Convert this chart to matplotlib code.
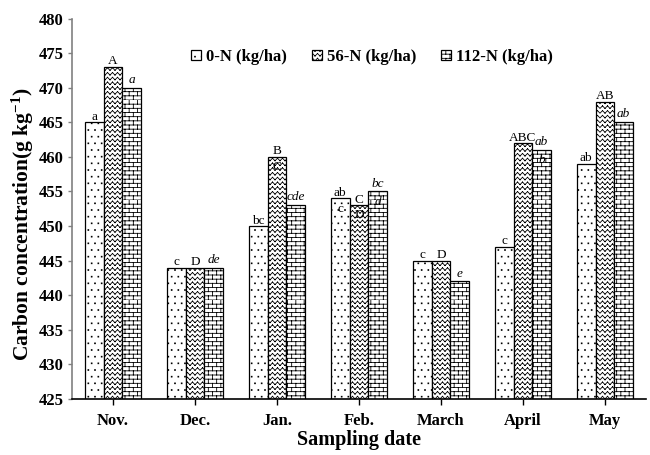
import numpy as np
import matplotlib
matplotlib.use("Agg")
import matplotlib.pyplot as plt
import matplotlib.hatch as mhatch
from matplotlib.path import Path

# data
months = ['Nov.', 'Dec.', 'Jan.', 'Feb.', 'March', 'April', 'May']
n0 = [465, 444, 450, 454, 445, 447, 459]
n56 = [473, 444, 460, 453, 445, 462, 468]
n112 = [470, 444, 453, 455, 442, 461, 465]
let0 = ['a', 'c', 'bc', 'ab', 'c', 'c', 'ab']
let56 = ['A', 'D', 'B', 'C', 'D', 'ABC', 'AB']
let112 = ['a', 'de', 'cde', 'bc', 'e', 'ab', 'ab']
# second letters that sit just under the bar tops
inner0 = ['', '', '', 'c', '', '', '']
inner56 = ['', '', 'C', 'D', '', '', '']
inner112 = ['', '', '', 'd', '', 'b', '']
names = ['0-N (kg/ha)', '56-N (kg/ha)', '112-N (kg/ha)']


# custom hatch patterns: dots ('.'), zigzag ('x'), brick ('+')
class DotHatch(mhatch.HatchPatternBase):
    def __init__(self, hatch, density):
        self.pts = []
        if '.' in hatch:
            n = 15
            for j in range(n):
                for i in range(n):
                    x = (i + 0.5 * (j % 2) + 0.25) / n
                    self.pts.append((x, (j + 0.5) / n))
        self.num_vertices = len(self.pts) * 5

    def set_vertices_and_codes(self, vertices, codes):
        s = 0.004
        for k, (x, y) in enumerate(self.pts):
            v = [(x - s, y - s), (x + s, y - s), (x + s, y + s), (x - s, y + s), (x - s, y - s)]
            vertices[k * 5:k * 5 + 5] = v
            codes[k * 5:k * 5 + 5] = [Path.MOVETO, Path.LINETO, Path.LINETO, Path.LINETO, Path.CLOSEPOLY]


class SegHatch(mhatch.HatchPatternBase):
    char = ''

    def __init__(self, hatch, density):
        self.segs = self.make() if self.char in hatch else []
        self.num_vertices = len(self.segs) * 2

    def set_vertices_and_codes(self, vertices, codes):
        segs = np.array(self.segs)
        vertices[0::2] = segs[:, 0]
        vertices[1::2] = segs[:, 1]
        codes[0::2] = Path.MOVETO
        codes[1::2] = Path.LINETO


class ZigHatch(SegHatch):
    char = 'x'

    def make(self):
        segs = []
        nx, ny, amp = 20, 21, 0.013
        for j in range(ny):
            y = (j + 0.5) / ny
            for i in range(nx):
                x0 = i / nx
                xm = (i + 0.5) / nx
                x1 = (i + 1) / nx
                segs.append([(x0, y - amp), (xm, y + amp)])
                segs.append([(xm, y + amp), (x1, y - amp)])
        return segs


class BrickHatch(SegHatch):
    char = '+'

    def make(self):
        segs = []
        nx, ny = 12, 24
        for j in range(ny):
            y0 = j / ny
            y1 = (j + 1) / ny
            segs.append([(0, y0), (1, y0)])
            off = 0.5 * (j % 2)
            for i in range(nx):
                xx = (i + off) / nx
                segs.append([(xx, y0), (xx, y1)])
        return segs


mhatch._hatch_types = [DotHatch, ZigHatch, BrickHatch]

plt.rcParams['font.family'] = ['Liberation Serif', 'DejaVu Serif']
plt.rcParams['mathtext.fontset'] = 'custom'
plt.rcParams['mathtext.rm'] = 'Liberation Serif:bold'
plt.rcParams['mathtext.default'] = 'rm'
plt.rcParams['hatch.linewidth'] = 0.6
plt.rcParams['hatch.color'] = 'black'

fig = plt.figure(figsize=(6.5, 4.55), dpi=100)
ax = fig.add_axes([0.1108, 0.1231, 0.883, 0.8362])

x = np.arange(len(months))
w = 0.228
series = [n0, n56, n112]
hatches = ['.', 'x', '+']
tops = [let0, let56, let112]
inners = [inner0, inner56, inner112]

for k in range(3):
    pos = x + (k - 1) * w
    ax.bar(pos, series[k], w, bottom=0, color='white', edgecolor='black',
           linewidth=0.9, hatch=hatches[k], label=names[k])
    style = 'italic' if k == 2 else 'normal'
    lift = 3.5 if k == 2 else 1.8
    for i in range(len(months)):
        ax.annotate(tops[k][i], (pos[i], series[k][i]), xytext=(0, lift),
                    textcoords='offset points', ha='center', va='baseline',
                    fontsize=9.5, style=style)
        if inners[k][i]:
            ax.annotate(inners[k][i], (pos[i], series[k][i]), xytext=(0, -3),
                        textcoords='offset points', ha='center', va='top',
                        fontsize=9.5, style=style)

ax.set_ylim(425, 480)
ax.set_yticks(np.arange(425, 481, 5))
ax.set_xlim(-0.5, 6.5)
ax.set_xticks(x)
ax.set_xticklabels(months, fontsize=12, fontweight='bold')
for t in ax.get_yticklabels():
    t.set_fontweight('bold')
    t.set_fontsize(12)

ax.spines['top'].set_visible(False)
ax.spines['right'].set_visible(False)
ax.spines['left'].set_color('#808080')
ax.spines['left'].set_linewidth(1.2)
ax.spines['bottom'].set_linewidth(1.2)
ax.tick_params(axis='y', direction='out', length=3, width=1, color='#808080', pad=3)
ax.tick_params(axis='x', direction='out', length=4, width=1, pad=6)

ax.set_xlabel('Sampling date', fontsize=14.5, fontweight='bold', labelpad=1)
ax.set_ylabel(r'Carbon concentration(g kg$^{-1}$)', fontsize=15.5, fontweight='bold')
ax.yaxis.set_label_coords(-0.062, 0.46)

fig.legend(loc='center', bbox_to_anchor=(0.572, 0.875), ncol=3, frameon=False,
           prop={'weight': 'bold', 'size': 12}, handlelength=0.6, handleheight=0.6,
           handletextpad=0.3, columnspacing=1.5)

fig.savefig('out.png', dpi=100)
